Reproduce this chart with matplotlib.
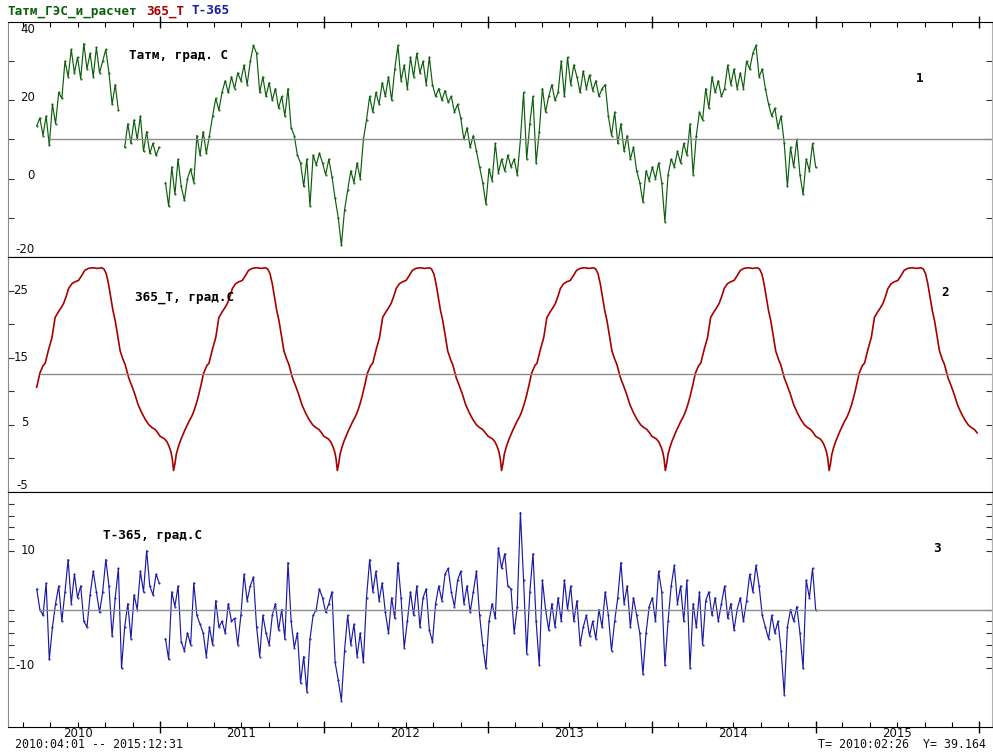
import numpy as np
import pandas as pd
import matplotlib
matplotlib.use("Agg")
import matplotlib.pyplot as plt
import matplotlib.dates as mdates

nan = np.nan

# weekly samples from 2010-04-01
t_start = "2010-04-01"
t_atm = [
    13.5, 15.5, 11, 16, 8.5, 19, 14, 22, 20.5, 30,
    26, 33, 27, 31, 25.5, 34.5, 28, 32, 26, 33.5,
    27, 30, 33, 27, 19, 24, 17.5, nan, 8, 14,
    9, 15, 10, 16, 7, 12, 6.5, 9, 6, 8,
    nan, -1, -7, 3, -4, 5, -2, -5.5, 0, 2.5,
    -1, 11, 6, 12, 6.5, 11, 16, 20.5, 17.5, 22,
    25, 22, 26, 23, 27, 25, 29, 24, 30, 34,
    32, 22, 26, 21, 24.5, 20, 23, 18, 21, 16,
    23, 13, 11, 6, 4, -2, 5, -7, 6, 3.5,
    6.5, 4, 1, 5, 0.5, -5, -10, -17, -8, -3,
    2, -1, 4, 0, 10, 15, 21, 17, 22, 19,
    24.5, 21, 26, 20, 28, 34, 25, 29, 23, 31,
    26, 32, 27, 30, 24, 31, 24, 21, 23, 20,
    22.5, 19.5, 21, 17, 19, 15.5, 10, 13, 8, 11,
    7, 3, -1, -6.5, 2.5, -0.5, 9, 1.5, 5, 2,
    6, 3, 5, 1, 10, 22, 5, 14, 21, 4,
    12, 23, 17, 21, 24, 20, 22, 30, 21, 31,
    24, 29, 26, 22, 27.5, 23, 26.5, 22.5, 25, 21,
    23, 24, 16, 11, 17, 9, 14, 7, 11, 5,
    8, 2, -1, -6, 2, -0.5, 3, 0, 4, -1,
    -11, 1, 5, 3, 7, 4, 9, 6, 14, 1,
    11, 17, 15, 23, 18, 26, 22, 25, 21, 23,
    29, 24, 28, 23, 27, 23, 30, 28, 32, 34,
    26, 28, 23, 19, 16, 18, 13, 16, 9, -2,
    8, 3, 10, 1, -4, 5, 2, 9, 3,
]

t_dev = [
    3.5, 0, -1, 4.5, -8.5, -3, 1, 4, -2, 3,
    8.5, 1, 6, 2, 4, -2, -3, 2.5, 6.5, 3,
    -0.5, 3, 8.5, 4, -4.5, 2, 7, -10, -3, 1,
    -5, 2.5, 0, 6.5, 3, 10, 4, 2.5, 6, 4.5,
    nan, -5, -8.5, 3, 0.5, 4, -5.5, -7, -4, -6,
    4.5, -1, -2.5, -4, -8, -3, -6, 1.5, -3, -2,
    -4, 1, -2, -1.5, -6, -1, 6, 1.5, 4, 5.5,
    -3, -8, -1, -4, -6, -1, 1, -3.5, 0, -5,
    8, -2, -6.5, -4, -12.5, -8, -14, -5, -1, 0,
    3.5, 2, -0.5, 1, 3, -9, -12, -15.5, -7, -1,
    -6, -2.5, -8, -4, -9, 2, 8.5, 3, 6.5, 1.5,
    4.5, -0.5, -4, 2, -1.5, 8, 2, -6.5, -2, 3,
    -1, 4, -3, 2, 3.5, -3.5, -5.5, 1, 4, 1.5,
    6, 7, 3, 0.5, 5, 6.5, 1, 4, -0.5, 3,
    6.5, -1, -6, -10, -2, 1, -1.5, 10.5, 7, 9.5,
    4, 3.5, -4, 0.5, 16.5, 5, -7.5, 3, 9.5, -2,
    -9.5, 5, 0, -3.5, 1, -3, 2, -2, 5, 0,
    4, -2, 1.5, -6, -3, -1, -4.5, -2, -5, 0,
    -3, 3, -1, -7, -2, 2, 8, 1, 4, -3,
    2, -1, -4, -11, -4, 0.5, 2, -2, 6.5, 3,
    -9.5, -2, 4, 7.5, 1, 4, -2, 5, -10, 1,
    -3, 3, -6, 1.5, 3, -1, 2, -2, 1, 4,
    -1.5, 1, -3.5, 0, 2, -2, 1.5, 6, 3, 7.5,
    4, -1, -3, -5, -1, -4, -2, -7, -14.5, -3,
    0, -2, 0.5, -4, -10, 5, 2, 7, 0,
]

# 365-day climatology (day of year -> value), same every year
clim_days = [0, 5, 10, 15, 20, 24, 27, 30, 33, 36, 40, 45, 50, 55, 60, 65, 70,
             75, 80, 85, 90, 97, 104, 109, 116, 124, 131, 138, 144, 150, 156,
             161, 168, 175, 183, 190, 197, 205, 215, 225, 235, 240, 245, 250,
             255, 260, 265, 270, 276, 282, 287, 295, 302, 309, 316, 324, 332,
             340, 347, 354, 360]
clim_vals = [3.3, 3.1, 2.9, 2.5, 1.8, 1.0, 0.0, -1.8, -0.8, 0.6, 1.6, 2.6, 3.4,
             4.2, 4.9, 5.6, 6.2, 7.0, 8.0, 9.2, 10.6, 12.7, 13.8, 14.2, 16.1,
             18.0, 21.0, 21.8, 22.4, 23.1, 24.2, 25.3, 26.0, 26.3, 26.5, 27.2,
             28.0, 28.3, 28.4, 28.3, 28.4, 28.2, 27.5, 26.0, 24.0, 22.0, 20.5,
             18.5, 16.0, 14.8, 14.0, 12.0, 10.8, 9.5, 8.0, 6.8, 5.8, 5.0, 4.6,
             4.3, 3.8]
clim_years = [2010, 2011, 2012, 2013, 2014, 2015]

mean_atm = 10.2
mean_clim = 12.6
years = [2010, 2011, 2012, 2013, 2014, 2015]

week_dates = pd.date_range(t_start, periods=len(t_atm), freq="7D")
t0 = pd.Timestamp(t_start)
t1 = pd.Timestamp("2015-12-31")
clim_x, clim_y = [], []
for yr in clim_years:
    for d, v in zip(clim_days, clim_vals):
        dt = pd.Timestamp(yr, 1, 1) + pd.Timedelta(days=d)
        if t0 <= dt <= t1:
            clim_x.append(dt)
            clim_y.append(v)

W, H = 993, 754
fig = plt.figure(figsize=(W / 100, H / 100), dpi=100)
left = 8 / W
width = (992 - 8) / W
tops = [22, 257, 492]
ph = 235
axes = []
for t in tops:
    ax = fig.add_axes([left, 1 - (t + ph) / H, width, ph / H])
    axes.append(ax)
ax1, ax2, ax3 = axes

xmin = pd.Timestamp("2010-01-27")
xmax = pd.Timestamp("2016-01-29")

green = "#0b5e0b"
red = "#a80000"
blue = "#1a1aa6"
grey = "#8c8c8c"

ax1.plot(week_dates, t_atm, color=green, lw=0.85, marker=".", ms=1.0)
ax1.plot([pd.Timestamp("2010-04-28"), xmax], [mean_atm, mean_atm], color=grey, lw=1)
ax2.plot(clim_x, clim_y, color=red, lw=1.2)
ax2.plot([pd.Timestamp("2010-04-08"), xmax], [mean_clim, mean_clim], color=grey, lw=1)
ax3.plot(week_dates, t_dev, color=blue, lw=0.85, marker=".", ms=1.0)
ax3.plot([pd.Timestamp("2010-04-08"), xmax], [0, 0], color=grey, lw=1)

ax1.set_ylim(-20, 40)
ax2.set_ylim(-5, 30)
ax3.set_ylim(-20, 20)
ax1.set_yticks([30, 20, 10, 0, -10])
ax2.set_yticks([25, 20, 15, 10, 5, 0])
ax3.set_yticks([18, 16, 14, 12, 10, 0, -2, -4, -6, -8, -10])

for ax in axes:
    ax.set_xlim(xmin, xmax)
    ax.xaxis.set_major_locator(mdates.YearLocator())
    ax.xaxis.set_minor_locator(mdates.MonthLocator(bymonth=[3, 5, 7, 9, 11]))
    ax.tick_params(axis="y", which="both", direction="in", length=4, width=0.8,
                   left=True, right=True, labelleft=False, colors="#333333")
    ax.tick_params(axis="x", which="both", bottom=False, top=False,
                   labelbottom=False, labeltop=False)
    ax.spines["left"].set_color("#8a8a8a")
    ax.spines["right"].set_color("#b0b0b0")
    ax.spines["top"].set_color("black")
    ax.spines["bottom"].set_color("black")
    ax.set_facecolor("white")

ax1.tick_params(axis="x", which="major", top=True, direction="inout", length=8, width=1)
ax1.tick_params(axis="x", which="minor", top=True, direction="in", length=3.5, width=0.8)
ax3.tick_params(axis="x", which="major", bottom=True, direction="inout", length=8, width=1)
ax3.tick_params(axis="x", which="minor", bottom=True, direction="in", length=3.5, width=0.8)

# y labels drawn inside the axes
tick_font = dict(fontsize=8.5, color="#111111", ha="right", va="center")
for txt, y in [("40", 38), ("20", 20.6), ("0", 0.8), ("-20", -18.2)]:
    ax1.text(0.0275, y, txt, transform=ax1.get_yaxis_transform(), **tick_font)
for txt, y in [("25", 25), ("15", 15), ("5", 5.3), ("-5", -4.0)]:
    ax2.text(0.0205, y, txt, transform=ax2.get_yaxis_transform(), **tick_font)
for txt, y in [("10", 10), ("-10", -9.5)]:
    ax3.text(0.0275, y, txt, transform=ax3.get_yaxis_transform(), **tick_font)

for yr in years:
    ax3.text(pd.Timestamp(yr, 7, 1), -0.026, str(yr), transform=ax3.get_xaxis_transform(),
             ha="center", va="center", fontsize=8.5, color="#111111")

mono = dict(family="DejaVu Sans Mono", fontweight="bold", fontsize=9.1, va="center")


def px_text(x, y, s, **kw):
    fig.text(x / W, 1 - y / H, s, **kw)


px_text(8, 11, "Татм_ГЭС_и_расчет", color=green, **mono)
px_text(146, 11, "365_Т", color=red, **mono)
px_text(192, 11, "Т-365", color=blue, **mono)

px_text(129, 56, "Татм, град. С", color="black", **mono)
px_text(135, 298, "365_Т, град.С", color="black", **mono)
px_text(103, 536, "Т-365, град.С", color="black", **mono)

px_text(916, 79, "1", color="black", **mono)
px_text(941, 293, "2", color="black", **mono)
px_text(933, 548, "3", color="black", **mono)

px_text(15, 745, "2010:04:01 -- 2015:12:31", fontsize=8.4, color="#111111", va="center",
        family="DejaVu Sans Mono")
px_text(986, 745, "T= 2010:02:26  Y= 39.164", fontsize=8.4, color="#111111", va="center",
        ha="right", family="DejaVu Sans Mono")

fig.savefig("out.png", dpi=100)
